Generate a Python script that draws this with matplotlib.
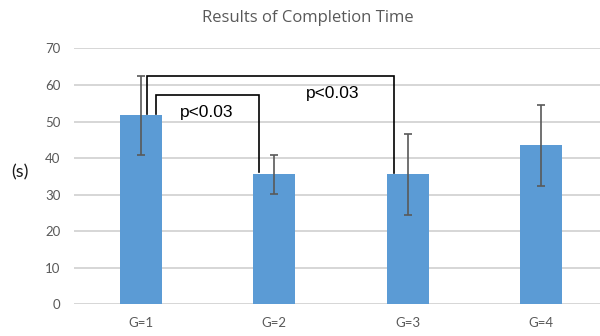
import matplotlib.pyplot as plt
import numpy as np

groups = ['G=1', 'G=2', 'G=3', 'G=4']
means = [51.8, 35.6, 35.6, 43.5]
errs = [10.8, 5.3, 11.0, 11.0]
yticks = [0, 10, 20, 30, 40, 50, 60, 70]

# significance brackets: (x_left, x_right, y_top, y_left_end, y_right_end, label, label_x, label_y)
brackets = [
    (0.048, 1.90, 62.6, 52.2, 36.0, 'p<0.03', 1.44, 57.6),
    (0.11, 0.888, 57.3, 52.2, 36.3, 'p<0.03', 0.495, 52.4),
]

fig = plt.figure(figsize=(6, 3.36), dpi=100)
ax = fig.add_axes([0.124, 0.0938, 0.876, 0.762])

x = np.arange(len(groups))
ax.bar(x, means, width=0.315, color='#5b9bd5', zorder=2)
ax.errorbar(x, means, yerr=errs, fmt='none', ecolor='#595959', elinewidth=1.2,
            capsize=3, capthick=1.2, zorder=3)

for x0, x1, top, yl, yr, label, lx, ly in brackets:
    ax.plot([x0, x0, x1, x1], [yl, top, top, yr], color='black', lw=1.2,
            zorder=4, solid_joinstyle='miter')
    ax.text(lx, ly, label, fontsize=12.5, color='black', ha='center', va='center',
            family='Liberation Sans')

ax.set_xlim(-0.5, 3.444)
ax.set_ylim(0, 70)
ax.set_yticks(yticks)
ax.set_xticks(x)
ax.set_xticklabels(groups)
ax.yaxis.grid(True, color='#d0d0d0', lw=1.2, zorder=0)
ax.set_axisbelow(True)
for s in ax.spines.values():
    s.set_visible(False)
ax.tick_params(length=0, labelsize=9.5, labelcolor='#595959', pad=9)
ax.tick_params(axis='y', pad=10)
for t in ax.get_xticklabels() + ax.get_yticklabels():
    t.set_family('Lato')

fig.text(0.018, 0.487, '(s)', fontsize=13, color='#1a1a1a', va='center', ha='left',
         family='Lato')
fig.text(0.513, 0.945, 'Results of Completion Time', fontsize=12, color='#595959',
         ha='center', va='center', family='Open Sans')

fig.savefig('out.png', dpi=100)
